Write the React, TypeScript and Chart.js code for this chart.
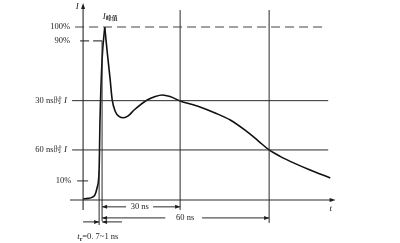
import { useEffect, useRef } from "react";
import { Chart, registerables } from "chart.js";

Chart.register(...registerables);

// Waveform of the discharge current (t in ns, I in % of peak, schematic)
const riseTime = [-2.7, -1.0, 0.3, 1.3, 2.0, 2.7, 3.0, 3.7, 4.6];
const riseCurrent = [0.6, 0.9, 1.5, 2.9, 6.9, 17.3, 46, 81, 100];
const decayTime = [4.6, 5.4, 6.4, 7.1, 8.2, 9.4, 11.0, 12.5, 14.5, 18.9, 21.6, 24.0, 26.6, 30, 33.4, 36.7, 41.8, 46.9, 51.9, 56.3, 60, 63.7, 68.8, 73.8, 80.6];
const decayCurrent = [100, 86, 70, 58, 51, 48.3, 47.5, 48.6, 52, 57.8, 59.8, 60.7, 59.8, 57.2, 55.5, 53.8, 50.3, 46.2, 40.3, 34.2, 28.9, 25.2, 21.0, 17.3, 12.7];

// Reference levels (% of peak, as drawn)
const levelPeak = 100;
const level90 = 92;
const level30ns = 57.4;
const level60ns = 28.9;
const level10 = 11;

// Reference times (ns)
const markTimes = [30, 60];
const riseStart = 2.7;
const riseEnd = 3.7;

const levelLabels = ["100%", "90%", "30 ns时", "60 ns时", "10%"];
const durationLabels = ["30 ns", "60 ns"];
const riseLabel = "=0. 7~1 ns";
const peakLabel = "峰值";

const X_MIN = -30.7;
const X_MAX = 104.1;
const Y_MIN = -24.9;
const Y_MAX = 115.6;

const INK = "#1e1e1e";
const LINE = "#2a2a2a";
const SERIF = "'Liberation Serif', 'Noto Serif CJK SC', 'Noto Sans CJK SC', serif";

type Part = { t: string; style?: "i" | "sub" | "n" };

function seg(x1: number, y1: number, x2: number, y2: number, dash: number[] = [], width = 1, color = LINE) {
  return {
    data: [{ x: x1, y: y1 }, { x: x2, y: y2 }],
    borderColor: color,
    borderWidth: width,
    borderDash: dash,
    pointRadius: 0,
    tension: 0,
    fill: false,
  };
}

function drawRich(ctx: CanvasRenderingContext2D, parts: Part[], x: number, y: number, align: "left" | "right" | "center") {
  const fontFor = (p: Part) =>
    p.style === "i" ? `italic 9px ${SERIF}` : p.style === "sub" ? `bold 6px ${SERIF}` : `8.5px ${SERIF}`;
  let total = 0;
  const widths = parts.map((p) => {
    ctx.font = fontFor(p);
    const w = ctx.measureText(p.t).width;
    total += w;
    return w;
  });
  let cx = align === "left" ? x : align === "right" ? x - total : x - total / 2;
  ctx.textBaseline = "middle";
  ctx.textAlign = "left";
  parts.forEach((p, i) => {
    ctx.font = fontFor(p);
    ctx.fillText(p.t, cx, p.style === "sub" ? y + 2.5 : y);
    cx += widths[i];
  });
}

function arrow(ctx: CanvasRenderingContext2D, x: number, y: number, dx: number, dy: number, len = 5, half = 2) {
  const nx = -dy;
  const ny = dx;
  ctx.beginPath();
  ctx.moveTo(x, y);
  ctx.lineTo(x - dx * len + nx * half, y - dy * len + ny * half);
  ctx.lineTo(x - dx * len - nx * half, y - dy * len - ny * half);
  ctx.closePath();
  ctx.fill();
}

const annotations = {
  id: "annotations",
  afterDatasetsDraw(chart: any) {
    const ctx: CanvasRenderingContext2D = chart.ctx;
    const xs = chart.scales.x;
    const ys = chart.scales.y;
    const X = (v: number) => xs.getPixelForValue(v);
    const Y = (v: number) => ys.getPixelForValue(v);
    ctx.save();
    ctx.fillStyle = INK;

    // axis arrows
    arrow(ctx, X(-2.7), Y(113.8), 0, -1, 6, 2);
    arrow(ctx, X(82.4), Y(0), 1, 0, 6, 2);

    // duration arrows
    const v30 = -4.0;
    const v60 = -10.4;
    const vtr = -12.7;
    arrow(ctx, X(riseEnd), Y(v30), -1, 0);
    arrow(ctx, X(markTimes[0]), Y(v30), 1, 0);
    arrow(ctx, X(riseEnd), Y(v60), -1, 0);
    arrow(ctx, X(markTimes[1]), Y(v60), 1, 0);
    arrow(ctx, X(riseStart), Y(vtr), 1, 0);
    arrow(ctx, X(riseEnd), Y(vtr), -1, 0);

    // level labels
    const levels = [levelPeak, level90, level30ns, level60ns, level10];
    const rightEdges = [-7.1, -7.1, -8.1, -8.1, -6.7];
    levels.forEach((lv, i) => {
      const parts: Part[] = i === 2 || i === 3
        ? [{ t: levelLabels[i] + " " }, { t: "I", style: "i" }]
        : [{ t: levelLabels[i] }];
      drawRich(ctx, parts, X(rightEdges[i]), Y(lv), "right");
    });

    // axis titles
    drawRich(ctx, [{ t: "I", style: "i" }], X(-4.7), Y(111.5), "center");
    drawRich(ctx, [{ t: "t", style: "i" }], X(80.8), Y(-4.8), "center");

    // peak label
    drawRich(ctx, [{ t: "I", style: "i" }, { t: peakLabel, style: "sub" }], X(3.9), Y(106.2), "left");

    // duration labels
    drawRich(ctx, [{ t: durationLabels[0] }], X(16.4), Y(v30), "center");
    drawRich(ctx, [{ t: durationLabels[1] }], X(31.7), Y(v60), "center");

    // rise time label
    drawRich(ctx, [{ t: "t", style: "i" }, { t: "r", style: "sub" }, { t: riseLabel }], X(-4.7), Y(-21.2), "left");

    ctx.restore();
  },
};

export default function App() {
  const ref = useRef<HTMLCanvasElement | null>(null);

  useEffect(() => {
    if (!ref.current) return;
    const v30 = -4.0;
    const v60 = -10.4;
    const vtr = -12.7;
    const datasets: any[] = [
      // axes
      seg(-7.1, 0, 81, 0, [], 1.1),
      seg(-2.7, -5.8, -2.7, 112, [], 1.1),
      // level lines
      seg(-5.4, levelPeak, 79.5, levelPeak, [9, 5], 1.2, "#444"),
      seg(-3.7, level90, 4.0, level90, [9, 4], 1.2, "#444"),
      seg(-6.4, level30ns, 79.9, level30ns, [], 1),
      seg(-6.4, level60ns, 79.9, level60ns, [], 1),
      seg(-4.7, level10, -1.0, level10, [], 1),
      // time marks
      seg(markTimes[0], -5.8, markTimes[0], 109.8, [], 1),
      seg(markTimes[1], -13.3, markTimes[1], 109.8, [], 1),
      seg(riseStart, -14.5, riseStart, 17, [], 1),
      seg(riseEnd, -12.2, riseEnd, level90, [], 1),
      // dimension lines
      seg(riseEnd, v30, 11.8, v30, [], 1),
      seg(20.9, v30, markTimes[0], v30, [], 1),
      seg(riseEnd, v60, 25.0, v60, [], 1),
      seg(37.4, v60, markTimes[1], v60, [], 1),
      seg(-2.7, vtr, riseStart, vtr, [], 1),
      seg(riseEnd, vtr, 10.4, vtr, [], 1),
      // waveform
      {
        data: riseTime.map((t, i) => ({ x: t, y: riseCurrent[i] })),
        borderColor: "#111",
        borderWidth: 1.6,
        pointRadius: 0,
        cubicInterpolationMode: "monotone",
        fill: false,
      },
      {
        data: decayTime.map((t, i) => ({ x: t, y: decayCurrent[i] })),
        borderColor: "#111",
        borderWidth: 1.6,
        pointRadius: 0,
        cubicInterpolationMode: "monotone",
        fill: false,
      },
    ];

    const chart = new Chart(ref.current, {
      type: "line",
      data: { datasets },
      options: {
        animation: false,
        responsive: false,
        devicePixelRatio: 1,
        layout: { padding: 0 },
        plugins: { legend: { display: false }, tooltip: { enabled: false } },
        scales: {
          x: { type: "linear", min: X_MIN, max: X_MAX, display: false },
          y: { type: "linear", min: Y_MIN, max: Y_MAX, display: false },
        },
      },
      plugins: [annotations],
    } as any);
    return () => chart.destroy();
  }, []);

  return (
    <div style={{ position: "fixed", left: 0, top: 0, width: 400, height: 243, background: "#fff" }}>
      <canvas ref={ref} width={400} height={243} style={{ width: 400, height: 243, display: "block" }} />
    </div>
  );
}
